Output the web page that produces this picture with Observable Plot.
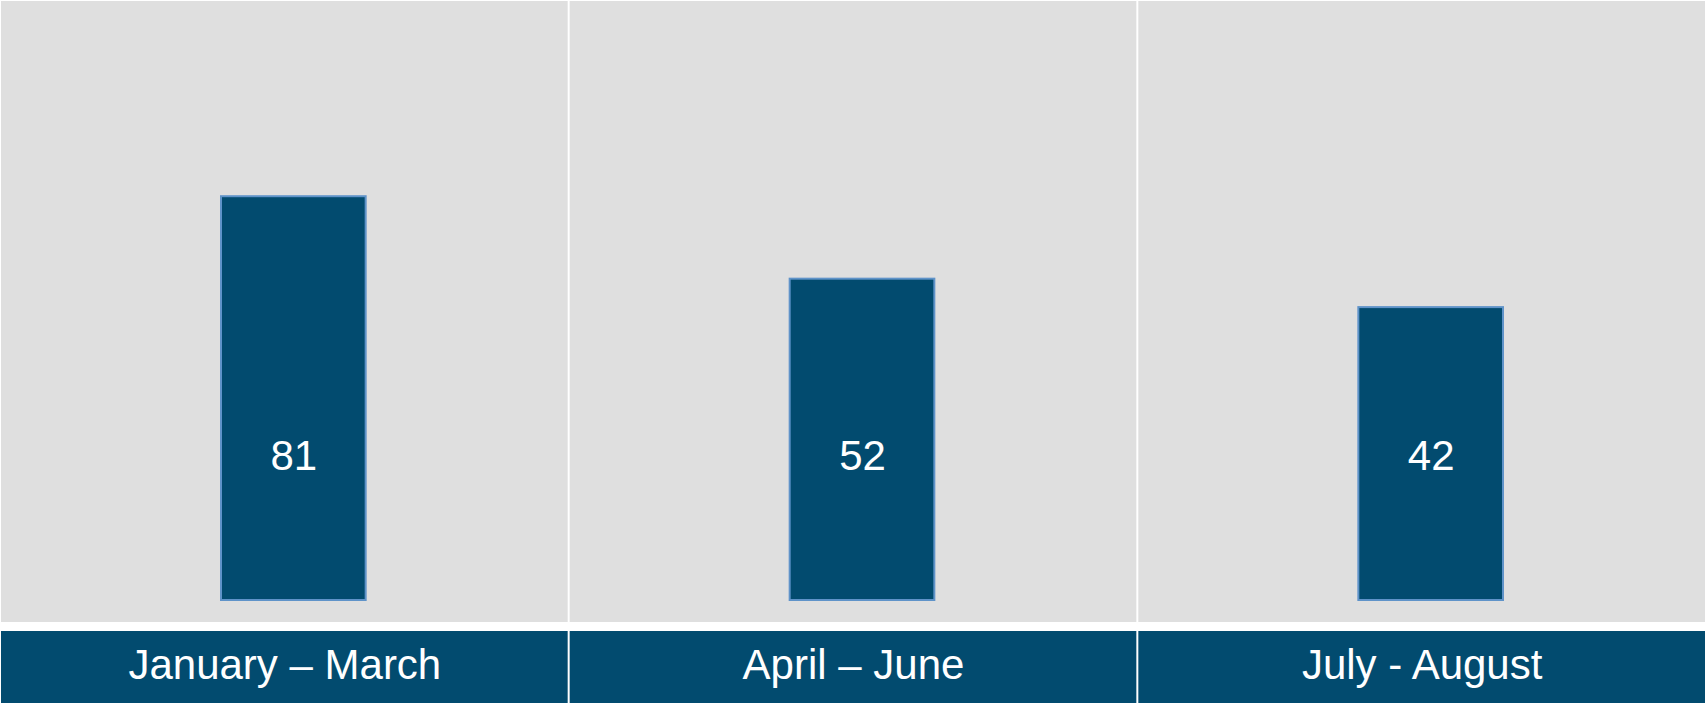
<!DOCTYPE html>
<html>
<head>
<meta charset="utf-8">
<script src="https://cdn.jsdelivr.net/npm/d3@7"></script>
<script src="https://cdn.jsdelivr.net/npm/@observablehq/plot@0.6"></script>
<style>
  html, body { margin: 0; padding: 0; background: #ffffff; }
  #chart svg { display: block; }
</style>
</head>
<body>
<div id="chart"></div>
<script>
// ---- data ----
const periods = ["January – March", "April – June", "July - August"];
const counts = [81, 52, 42];

// ---- layout constants ----
const W = 1706, H = 703;
const PLOT_BOTTOM = 600;          // pixel row of bar baseline
const Y_BASE = -61, Y_TOP = 150;  // y scale domain (bars start from the baseline)
const yAt = p => Y_BASE + (PLOT_BOTTOM - p) / PLOT_BOTTOM * (Y_TOP - Y_BASE);

const BLUE = "#024b6f";
const data = periods.map((p, i) => ({period: p, count: counts[i]}));

const chart = Plot.plot({
  width: W,
  height: H,
  margin: 0,
  style: {background: "#ffffff", fontFamily: "'Liberation Sans', Arial, sans-serif"},
  x: {domain: periods, padding: 0, round: false, axis: null},
  y: {domain: [Y_BASE, Y_TOP], range: [PLOT_BOTTOM, 0], axis: null},
  marks: [
    // grey panels
    Plot.barY(periods, {x: d => d, y1: yAt(622), y2: yAt(1), fill: "#dfdfdf", insetLeft: 1, insetRight: 1}),
    // category band
    Plot.barY(periods, {x: d => d, y1: yAt(703), y2: yAt(631), fill: BLUE, insetLeft: 1, insetRight: 1}),
    Plot.text(periods, {x: d => d, y: yAt(665), text: d => d, fill: "#ffffff", fontSize: 42}),
    // value bars
    Plot.barY(data, {
      x: "period", y1: Y_BASE, y2: "count",
      fill: BLUE, stroke: "#5f93c9", strokeWidth: 2,
      insetLeft: 221, insetRight: 203,
      ariaLabel: "value bars"
    }),
    Plot.text(data, {x: "period", y: yAt(456), text: d => String(d.count), fill: "#ffffff", fontSize: 42, dx: 9})
  ]
});

// soft drop shadow under the value bars
const ns = "http://www.w3.org/2000/svg";
const defs = document.createElementNS(ns, "defs");
const filter = document.createElementNS(ns, "filter");
filter.setAttribute("id", "barShadow");
filter.setAttribute("x", "-10%"); filter.setAttribute("y", "-10%");
filter.setAttribute("width", "130%"); filter.setAttribute("height", "130%");
const fe = document.createElementNS(ns, "feDropShadow");
fe.setAttribute("dx", "2"); fe.setAttribute("dy", "4");
fe.setAttribute("stdDeviation", "3");
fe.setAttribute("flood-color", "#000"); fe.setAttribute("flood-opacity", "0.4");
filter.appendChild(fe); defs.appendChild(filter);
chart.insertBefore(defs, chart.firstChild);
const g = chart.querySelector('g[aria-label="value bars"]');
if (g) g.setAttribute("filter", "url(#barShadow)");

document.getElementById("chart").appendChild(chart);
</script>
</body>
</html>
